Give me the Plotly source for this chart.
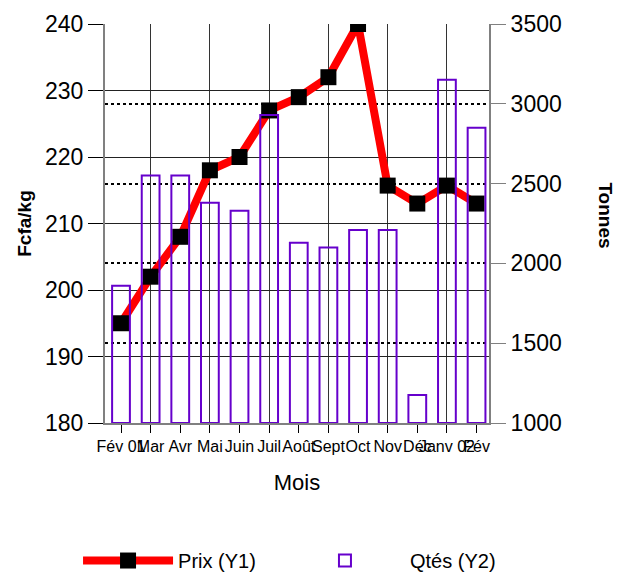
import plotly.graph_objects as go

mois = ["Fév 01", "Mar", "Avr", "Mai", "Juin", "Juil", "Août", "Sept",
        "Oct", "Nov", "Déc", "Janv 02", "Fév"]
prix = [195, 202, 208, 218, 220, 227, 229, 232, 240, 215.7, 213, 215.7, 213]
qtes = [1860, 2550, 2550, 2380, 2330, 2930, 2130, 2100, 2210, 2210, 1175, 3150, 2850]

y1_ticks = [180, 190, 200, 210, 220, 230, 240]
y2_ticks = [1000, 1500, 2000, 2500, 3000, 3500]

x = list(range(len(mois)))
FONT = "Liberation Sans, Arial, sans-serif"

fig = go.Figure()
fig.add_trace(go.Bar(
    x=x, y=[q - 1000 for q in qtes], base=1000, yaxis="y2", name="Qtés (Y2)",
    width=0.6, legend="legend2",
    marker=dict(color="rgba(0,0,0,0)", line=dict(color="#6600CC", width=2)),
))
fig.add_trace(go.Scatter(
    x=x, y=prix, mode="lines+markers", name="Prix (Y1)", legend="legend",
    line=dict(color="#FF0000", width=8),
    marker=dict(symbol="square", size=16, color="black"),
))

fig.update_layout(
    width=631, height=575,
    margin=dict(l=97, r=150, t=16, b=160, autoexpand=False),
    paper_bgcolor="white", plot_bgcolor="white",
    font=dict(family=FONT, color="black"),
    showlegend=True,
    legend=dict(orientation="h", xref="container", yref="container",
                x=0.111, y=0.073, yanchor="top", xanchor="left",
                font=dict(size=20), itemwidth=90),
    legend2=dict(orientation="h", xref="container", yref="container",
                 x=0.431, y=0.073, yanchor="top", xanchor="left",
                 font=dict(size=20), itemwidth=120),
    xaxis=dict(
        range=[-0.54, 12.42], tickmode="array", tickvals=x, ticktext=mois,
        tickangle=0, tickfont=dict(size=16), ticks="outside", ticklen=8,
        tickcolor="black", showgrid=False, zeroline=False, automargin=False,
        showline=True, linecolor="gray", linewidth=2,
        minor=dict(tickmode="array", tickvals=[1, 3, 5, 7, 9, 11], showgrid=True,
                   gridcolor="#333333", gridwidth=1, ticks="outside", ticklen=8,
                   tickcolor="black"),
        title=dict(text="Mois", font=dict(size=22), standoff=20),
    ),
    yaxis=dict(
        range=[180, 240], tickmode="array", tickvals=y1_ticks, automargin=False,
        tickfont=dict(size=23), ticks="outside", ticklen=15, tickcolor="black",
        showgrid=True, gridcolor="#222222", gridwidth=1, zeroline=False,
        showline=True, linecolor="gray", linewidth=2,
        title=dict(text="<b>Fcfa/kg</b>", font=dict(size=19), standoff=8),
    ),
    yaxis2=dict(
        range=[1000, 3500], tickmode="array", tickvals=y2_ticks, overlaying="y",
        side="right", tickfont=dict(size=23), ticks="outside", ticklen=15,
        automargin=False,
        tickcolor="gray", showgrid=True, gridcolor="black", gridwidth=2,
        griddash="dot", zeroline=False, showline=True, linecolor="gray", linewidth=2,
    ),
    annotations=[dict(text="<b>Tonnes</b>", textangle=90, xref="paper", yref="paper",
                      x=1.335, y=0.52, showarrow=False, font=dict(size=19))],
)

fig.write_html("out.html")
